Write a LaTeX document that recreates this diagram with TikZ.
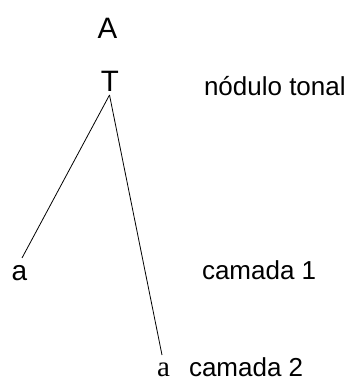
\documentclass[tikz,border=0pt]{standalone}
\usepackage{fontspec}
\setmainfont{Liberation Sans}
\newfontfamily\serifa{Liberation Serif}
\begin{document}
\begin{tikzpicture}[x=1pt,y=1pt,
  lbl/.style={inner sep=0pt,outer sep=0pt,font=\fontsize{26}{30}\selectfont},
  tone/.style={inner sep=0pt,outer sep=0pt,font=\fontsize{29.5}{34}\selectfont},
  branch/.style={line width=0.8pt}]
\useasboundingbox (0,0) rectangle (349,381);
% tonal tier
\node[tone,anchor=base] (A) at (107.5,342) {A};
\node[tone,anchor=base] (T) at (110,289) {T};
\node[lbl,anchor=base west] (tn) at (204,285) {nódulo tonal};
% layers
\node[inner sep=0pt,anchor=base,font=\fontsize{28}{32}\selectfont] (a1) at (19.5,100) {a};
\node[lbl,anchor=base west] (c1) at (202,101) {camada 1};
\node[inner sep=0pt,anchor=base,font=\serifa\fontsize{29}{32}\selectfont] (a2) at (163.5,5) {a};
\node[lbl,anchor=base west] (c2) at (189,5) {camada 2};
% association lines
\coordinate (top) at (109.5,286);
\coordinate (e1) at (22,123);
\coordinate (e2) at (162,26);
\draw[branch] (top) -- (e1);
\draw[branch] (top) -- (e2);
\end{tikzpicture}
\end{document}
